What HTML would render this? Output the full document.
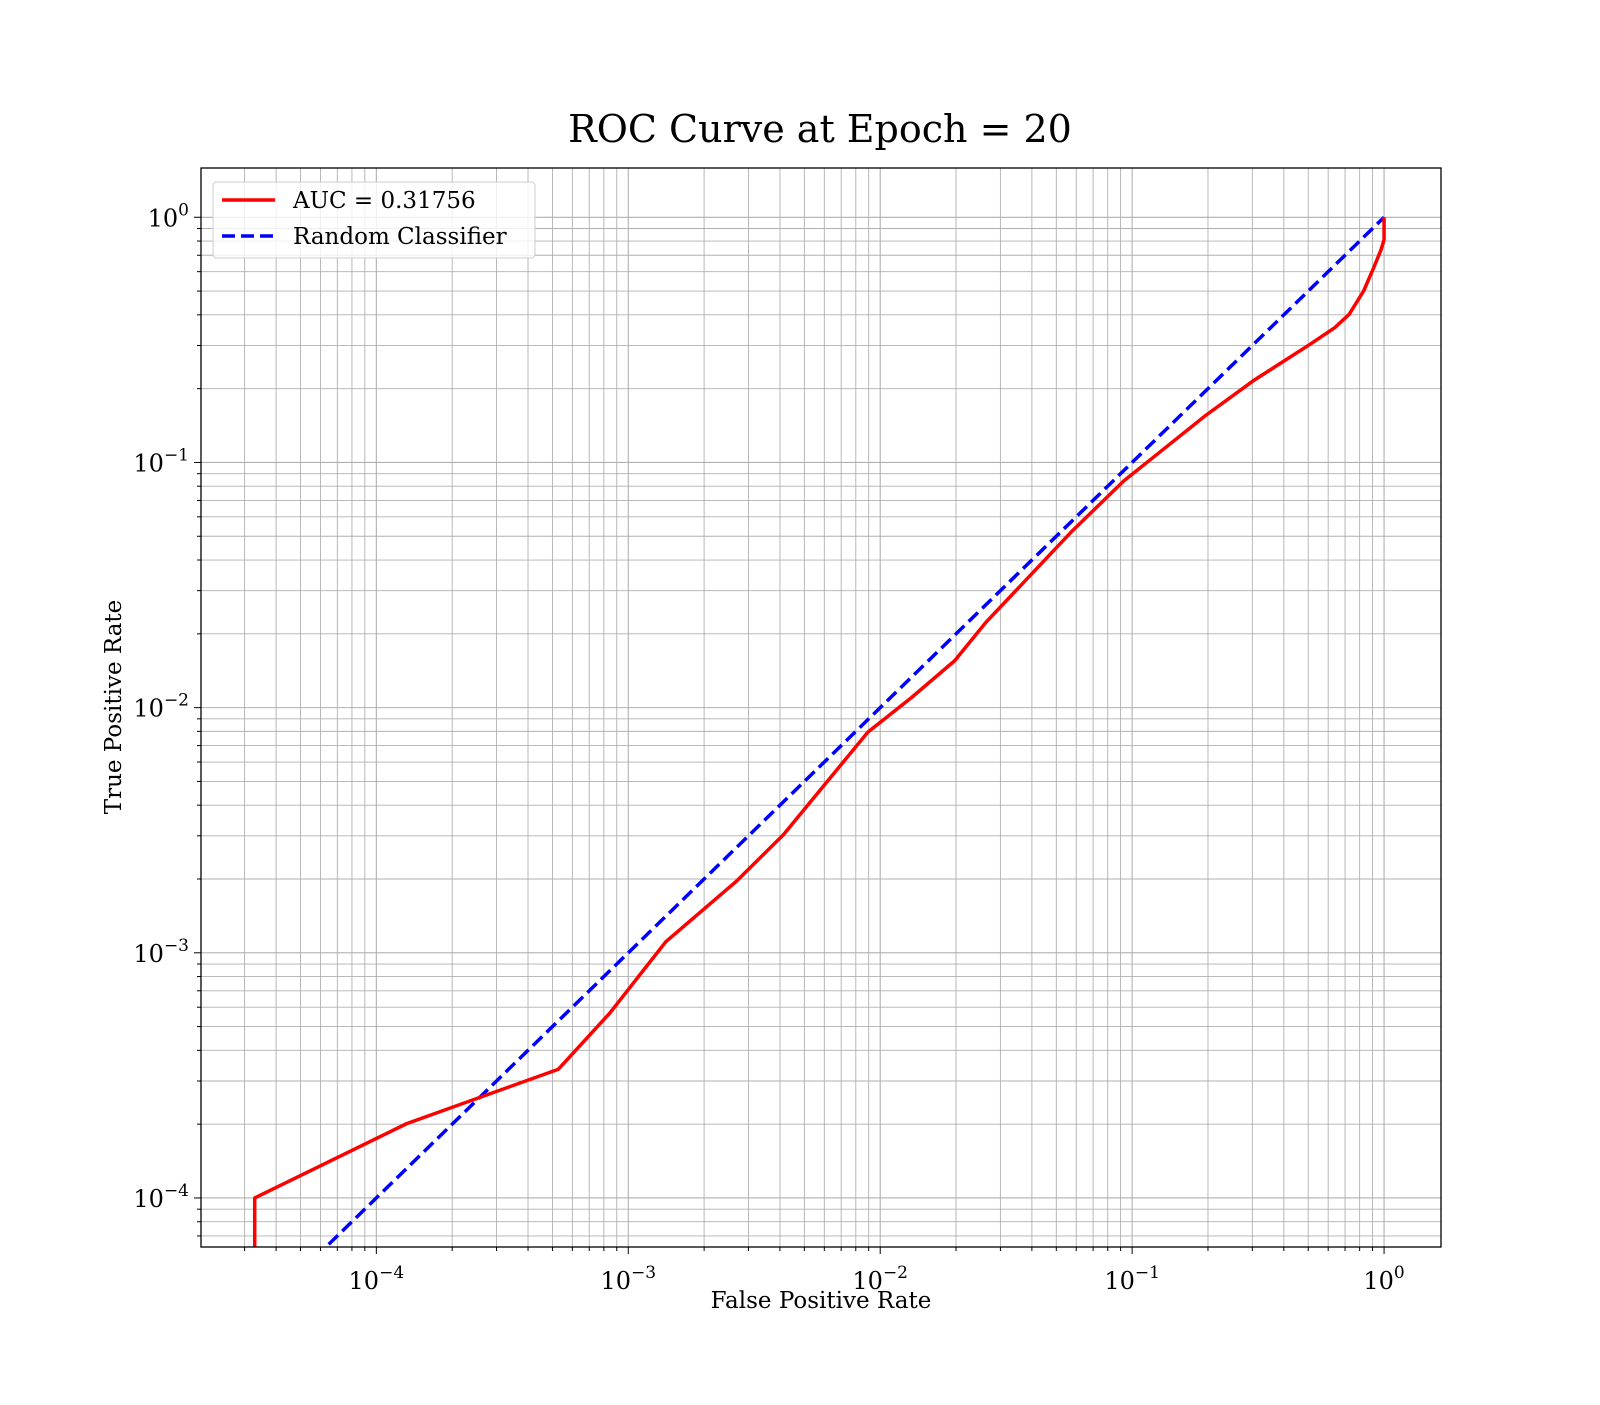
<!DOCTYPE html>
<html><head><meta charset="utf-8"><style>
body{margin:0;background:#fff}
svg{font-family:"DejaVu Serif","Liberation Serif",serif}
</style></head><body>
<svg id="chart" width="1600" height="1400" xmlns="http://www.w3.org/2000/svg">
<rect width="1600" height="1400" fill="#fff"/>
<text x="820" y="142" text-anchor="middle" font-size="38">ROC Curve at Epoch = 20</text>
<g id="grid"></g>
<defs><clipPath id="clip"><rect x="201" y="168" width="1240" height="1079"/></clipPath></defs>
<g id="series" clip-path="url(#clip)"></g>
<rect x="201" y="168" width="1240" height="1079" fill="none" stroke="#000" stroke-width="1.3"/>
<g id="ticks"></g>
<text x="821" y="1308" text-anchor="middle" font-size="23">False Positive Rate</text>
<text x="0" y="0" transform="translate(121,707) rotate(-90)" text-anchor="middle" font-size="23">True Positive Rate</text>
<g>
<rect x="213" y="182" width="322" height="76" rx="4" fill="#fff" fill-opacity="0.8" stroke="#ccc"/>
<line x1="222" y1="200" x2="275" y2="200" stroke="red" stroke-width="3.5"/>
<text x="293" y="208" font-size="23">AUC = 0.31756</text>
<line x1="222" y1="236" x2="275" y2="236" stroke="blue" stroke-width="3.5" stroke-dasharray="13,6"/>
<text x="293" y="244" font-size="23">Random Classifier</text>
</g>
</svg>
<script>
const fprValues=[3.29e-5,3.29e-5,1.32e-4,5.28e-4,8.45e-4,1.41e-3,2.69e-3,4.14e-3,8.93e-3,0.01334,0.01977,0.0262,0.0579,0.0927,0.196,0.303,0.510,0.638,0.727,0.830,0.911,0.972,1.0,1.0];
const tprValues=[1e-5,1e-4,2.01e-4,3.35e-4,5.68e-4,1.11e-3,1.96e-3,3.04e-3,7.94e-3,0.01101,0.01555,0.0222,0.0526,0.0841,0.1556,0.2156,0.304,0.355,0.402,0.501,0.625,0.736,0.81,1.0];
const randomX=[1e-5,1];
const randomY=[1e-5,1];
const tickExponents=[-4,-3,-2,-1,0];
const NS="http://www.w3.org/2000/svg";
const L=201,R=1441,T=168,B=1247;
const xmin=-4.696,xmax=0.226,ymin=-4.2,ymax=0.201;
function sx(v){return L+(Math.log10(v)-xmin)/(xmax-xmin)*(R-L);}
function sy(v){return B-(Math.log10(v)-ymin)/(ymax-ymin)*(B-T);}
function mk(tag,attrs,parent){const e=document.createElementNS(NS,tag);for(const k in attrs)e.setAttribute(k,attrs[k]);parent.appendChild(e);return e;}
const grid=document.getElementById('grid'),ticks=document.getElementById('ticks'),series=document.getElementById('series');
for(let d=-5;d<=0;d++){for(let m=1;m<=9;m++){const v=m*Math.pow(10,d);
 const lv=Math.log10(v);
 if(lv>=xmin&&lv<=xmax){const x=sx(v);
  const g=mk('line',{x1:x,x2:x,y1:T,y2:B,stroke:'#b0b0b0','stroke-width':m===1?1.1:0.9},grid);
  
  
  const t=mk('line',{x1:x,x2:x,y1:B,y2:B+(m===1?7:4),stroke:'#000','stroke-width':1},ticks);
  
  }
 if(lv>=ymin&&lv<=ymax){const y=sy(v);
  const g=mk('line',{x1:L,x2:R,y1:y,y2:y,stroke:'#b0b0b0','stroke-width':m===1?1.1:0.9},grid);
  
  
  const t=mk('line',{x1:L-(m===1?7:4),x2:L,y1:y,y2:y,stroke:'#000','stroke-width':1},ticks);
  
  }
}}
tickExponents.forEach(e=>{
 const v=Math.pow(10,e);
 const tx=mk('text',{x:sx(v),y:B+42,'text-anchor':'middle','font-size':24},ticks);
 
 
 tx.innerHTML='10<tspan dy="-11" font-size="17">'+(e<0?'\u2212'+(-e):e)+'</tspan>';
 const ty=mk('text',{x:L-12,y:sy(v)+9,'text-anchor':'end','font-size':24},ticks);
 
 
 ty.innerHTML='10<tspan dy="-11" font-size="17">'+(e<0?'\u2212'+(-e):e)+'</tspan>';
});
const rp=mk('polyline',{points:randomX.map((x,i)=>sx(x)+','+sy(randomY[i])).join(' '),fill:'none',stroke:'blue','stroke-width':3.5,'stroke-dasharray':'13,6'},series);


const cp=mk('polyline',{points:fprValues.map((x,i)=>sx(x)+','+sy(tprValues[i])).join(' '),fill:'none',stroke:'red','stroke-width':3.5,'stroke-linejoin':'round'},series);


</script>
</body></html>
